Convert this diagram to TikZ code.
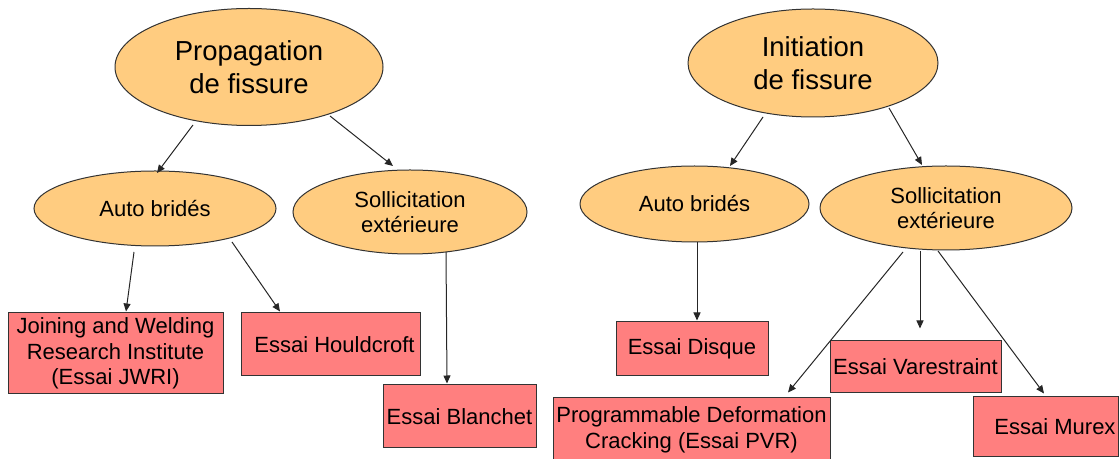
\documentclass[tikz,border=0pt]{standalone}
\usepackage{fontspec}
\setmainfont{Liberation Sans}
\usetikzlibrary{shapes.geometric,arrows.meta,calc}
\definecolor{ellfill}{HTML}{FFCC80}
\definecolor{boxfill}{HTML}{FF7F7F}
\definecolor{edge}{HTML}{333333}
\tikzset{
  bigell/.style={ellipse,draw=edge,line width=0.5pt,fill=ellfill,inner sep=0pt,align=center,
    font=\fontsize{13.75pt}{16.5pt}\selectfont},
  smallell/.style={ellipse,draw=edge,line width=0.5pt,fill=ellfill,inner sep=0pt,align=center,
    font=\fontsize{11pt}{12.75pt}\selectfont},
  testbox/.style={rectangle,draw=edge,line width=0.5pt,fill=boxfill,inner sep=0pt,align=center,
    font=\fontsize{11pt}{12.75pt}\selectfont},
  conn/.style={draw=black!85,line width=0.5pt,-{Triangle[length=4pt,width=3.5pt]}}
}
\begin{document}
\begin{tikzpicture}[x=0.5pt,y=-0.5pt]
\useasboundingbox (0,0) rectangle (1119,459);
\clip (0,0) rectangle (1119,459);
% level 1
\node[bigell,minimum width=134pt,minimum height=58.5pt] (prop) at (249,67) {Propagation\\de fissure};
\node[bigell,minimum width=125pt,minimum height=54pt] (init) at (813,63) {Initiation\\de fissure};
% level 2
\node[smallell,minimum width=121pt,minimum height=37.5pt] (ab1) at (155,208.5) {Auto bridés};
\node[smallell,minimum width=117pt,minimum height=42pt] (se1) at (410,212) {Sollicitation\\extérieure};
\node[smallell,minimum width=114.5pt,minimum height=38pt] (ab2) at (694.5,204) {Auto bridés};
\node[smallell,minimum width=126pt,minimum height=42pt] (se2) at (946,208) {Sollicitation\\extérieure};
% level 3
\node[testbox,minimum width=107.5pt,minimum height=40.5pt] (jwri) at (115.5,353.5) {Joining and Welding\\Research Institute\\(Essai JWRI)};
\node[testbox,minimum width=89.5pt,minimum height=31.5pt] (hould) at (330.5,344.5) {\hspace*{4pt}Essai Houldcroft};
\node[testbox,minimum width=76.5pt,minimum height=31.5pt] (blan) at (459.5,416.5) {Essai Blanchet};
\node[testbox,minimum width=76pt,minimum height=27pt] (disq) at (692,349) {Essai Disque};
\node[testbox,minimum width=85.5pt,minimum height=26pt] (vare) at (915.5,367) {Essai Varestraint};
\node[testbox,minimum width=138.5pt,minimum height=32pt] (pvr) at (691.5,430) {Programmable Deformation\\Cracking (Essai PVR)};
\node[testbox,minimum width=72.5pt,minimum height=30pt] (murex) at (1045.5,427) {\hspace*{9.5pt}Essai Murex};
% connectors
\draw[conn] ($(prop.center)+(-56,58)$) -- ($(ab1.center)+(2,-35.5)$);
\draw[conn] ($(prop.center)+(81,49)$) -- ($(se1.center)+(-17,-46)$);
\draw[conn] ($(init.center)+(-50,54)$) -- ($(ab2.center)+(35.5,-38)$);
\draw[conn] ($(init.center)+(76,45)$) -- ($(se2.center)+(-24,-43)$);
\draw[conn] ($(ab1.center)+(-21,43.5)$) -- ($(jwri.north)+(10.5,-1)$);
\draw[conn] ($(ab1.center)+(77,33.5)$) -- ($(hould.north)+(-50.5,-1)$);
\draw[conn] ($(se1.center)+(36,40)$) -- ($(blan.north)+(-12.5,-1)$);
\draw[conn] ($(ab2.center)+(2.5,38)$) -- ($(disq.north)+(5,-1)$);
\draw[conn] ($(se2.center)+(-26,43)$) -- ($(vare.north)+(4.5,-12)$);
\draw[conn] ($(se2.center)+(-43,44)$) -- ($(pvr.north)+(96.5,-5)$);
\draw[conn] ($(se2.center)+(-8,43)$) -- ($(murex.north)+(-1.5,-3)$);
\end{tikzpicture}
\end{document}
